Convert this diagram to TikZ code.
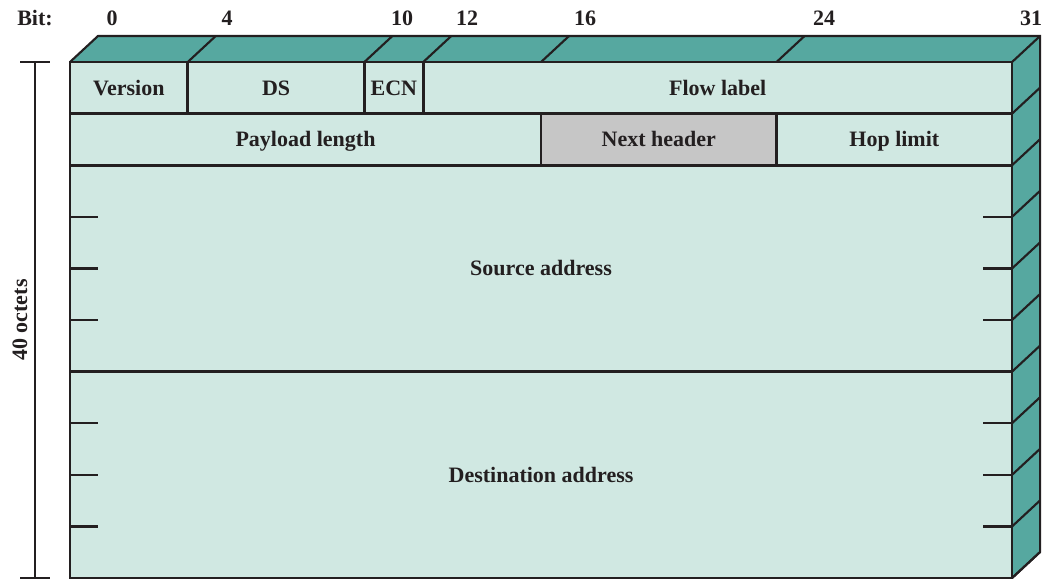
\documentclass[tikz,border=0pt]{standalone}
\usepackage{fontspec}
\setmainfont{Liberation Serif}
\usetikzlibrary{positioning}
\definecolor{facefill}{HTML}{D0E8E2}
\definecolor{sidefill}{HTML}{56A8A0}
\definecolor{greyfill}{HTML}{C6C6C6}
\definecolor{ink}{HTML}{231F20}
\tikzset {
  % front face of one header field
  field/.style = {
    draw = ink,
    fill = facefill,
    line width = 2pt
  },
  % text in a field, all on one baseline
  fieldname/.style = {
    text height = 11pt,
    text depth = 0pt
  },
  % shaded top and right faces
  side/.style = {
    fill = sidefill
  },
  edge/.style = {
    draw = ink,
    line width = 1.6pt
  },
  % short marks splitting the 32-bit words
  wordtick/.style = {
    draw = ink,
    line width = 1.8pt
  },
  dim/.style = {
    draw = ink,
    line width = 0.8pt
  },
  bitnum/.style = {
    inner sep = 0,
    text height = 11pt,
    text depth = 0pt
  }
}

\begin{document}
\begin{tikzpicture}[x=0.75pt, y=-0.75pt, text=ink,
    font=\bfseries\fontsize{16.5}{19}\selectfont]
  \useasboundingbox (0,0) rectangle (1053,586);
  \node[bitnum] (bit) at (35,18) {Bit:};
  \foreach \b/\x in {0/112,4/227,10/402,12/467,16/585,24/824,31/1031}
    \node[bitnum] (bit\b) at (\x,18) {\b};

  \begin{scope}[shift={(70,62)}, x=22.08pt, y=-38.7pt,
      every node/.style = {fieldname}]
    % top and right faces
    \fill[side] (0,0) -- ++(21pt,19.5pt) -- ++(32,0) -- ++(0,10)
      -- (32,10) -- (32,0) -- cycle;
    \draw[edge] (0,0) -- ++(21pt,19.5pt) -- ++(32,0) -- ++(0,10) -- (32,10);
    \foreach \b in {4,10,12,16,24}
      \draw[edge] (\b,0) -- ++(21pt,19.5pt);
    \foreach \r in {0,...,10}
      \draw[edge] (32,\r) -- ++(21pt,19.5pt);

    % front face
    \draw[field] (0,0) rectangle node (version) {Version} (4,1);
    \draw[field] (4,0) rectangle node (ds) {DS} (10,1);
    \draw[field] (10,0) rectangle node (ecn) {ECN} (12,1);
    \draw[field] (12,0) rectangle node (flow) {Flow label} (32,1);
    \draw[field] (0,1) rectangle node (payload) {Payload length} (16,2);
    \draw[field, fill = greyfill] (16,1) rectangle node (next) {Next header} (24,2);
    \draw[field] (24,1) rectangle node (hop) {Hop limit} (32,2);
    \draw[field] (0,2) rectangle node (src) {Source address} (32,6);
    \draw[field] (0,6) rectangle node (dst) {Destination address} (32,10);

    \foreach \r in {3,4,5,7,8,9} {
      \draw[wordtick] (0,\r) -- (0.96,\r);
      \draw[wordtick] (31.02,\r) -- (32,\r);
    }
  \end{scope}

  % size of the header
  \draw[dim] (20,62) -- (50,62) (35,62) -- (35,578) (20,578) -- (50,578);
  \node[rotate = 90] (octets) at (20,320) {40 octets};
\end{tikzpicture}
\end{document}
